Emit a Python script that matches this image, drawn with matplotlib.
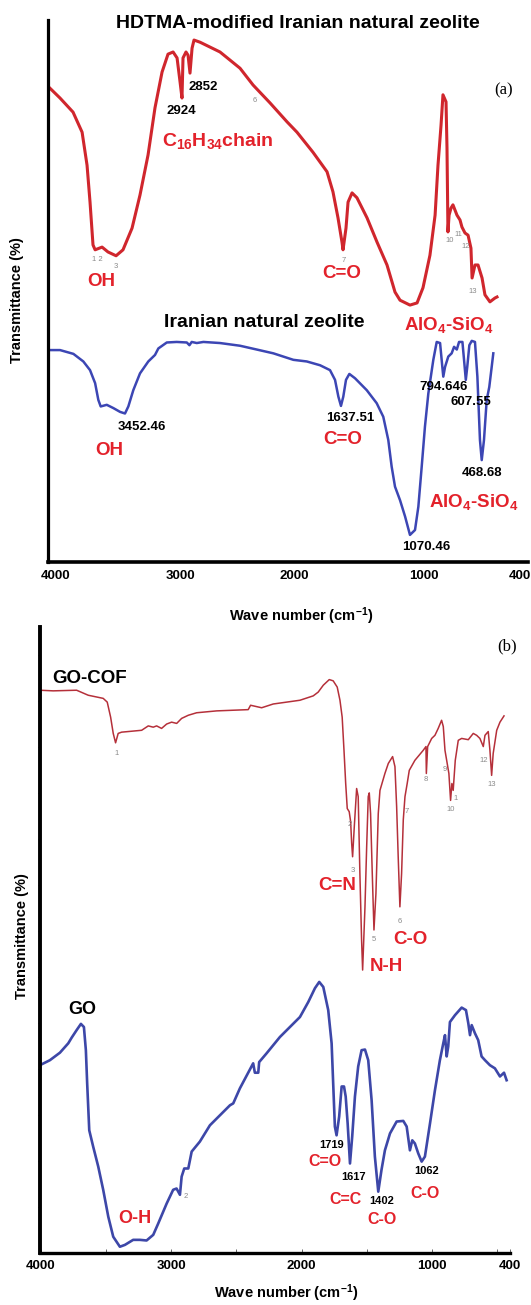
import numpy as np
import matplotlib
matplotlib.use('Agg')
import matplotlib.pyplot as plt

plt.rcParams['font.family'] = ['Liberation Sans', 'DejaVu Sans']
plt.rcParams['mathtext.fontset'] = 'custom'
plt.rcParams['mathtext.rm'] = 'Liberation Sans'
plt.rcParams['mathtext.bf'] = 'Liberation Sans:bold'
plt.rcParams['mathtext.it'] = 'Liberation Sans:italic'

# ---------------- data (wavenumber cm-1, transmittance arbitrary %) ----------------
hdtma = np.array([
    [4062, 87.7], [3968, 85.6], [3863, 83.0], [3790, 79.3], [3750, 73.2], [3726, 66.4],
    [3702, 58.5], [3685, 57.6], [3629, 58.1], [3581, 57.2], [3516, 56.5], [3460, 57.6],
    [3387, 61.6], [3323, 67.7], [3258, 75.1], [3202, 83.8], [3145, 90.4], [3097, 93.7],
    [3056, 94.1], [3024, 93.0], [3000, 88.6], [2983, 85.6], [2974, 93.0], [2948, 94.1],
    [2930, 93.5], [2913, 90.2], [2895, 94.8], [2878, 96.3], [2825, 95.9], [2651, 94.1],
    [2476, 91.1], [2362, 88.0], [2214, 84.7], [2065, 81.2], [1981, 79.3], [1857, 75.6],
    [1748, 72.0], [1702, 68.3], [1663, 63.5], [1632, 59.0], [1624, 57.6], [1601, 61.6],
    [1585, 66.4], [1554, 68.1], [1516, 67.2], [1438, 63.5], [1360, 59.0], [1283, 54.8],
    [1221, 49.8], [1182, 48.3], [1105, 47.4], [1050, 47.8], [1004, 50.6], [960, 56.6],
    [928, 64.0], [910, 73.2], [891, 80.6], [879, 86.2], [860, 84.9], [854, 76.4],
    [848, 60.9], [841, 64.0], [829, 65.3], [817, 65.9], [792, 64.0], [773, 63.1],
    [761, 61.8], [742, 60.7], [723, 60.3], [705, 57.9], [698, 52.4], [680, 54.8],
    [661, 54.8], [636, 52.4], [618, 49.3], [587, 48.0], [556, 48.7], [543, 48.9]])

zeolite = np.array([
    [4062, 39.1], [3968, 39.1], [3860, 38.4], [3780, 37.0], [3726, 35.4], [3685, 33.0],
    [3659, 29.9], [3640, 28.7], [3591, 29.0], [3538, 28.4], [3484, 27.7], [3444, 27.4],
    [3417, 28.7], [3377, 31.7], [3323, 34.8], [3256, 37.0], [3202, 38.2], [3175, 39.4],
    [3107, 40.5], [3027, 40.6], [2941, 40.5], [2918, 40.0], [2898, 40.6], [2854, 40.4],
    [2796, 40.6], [2651, 40.4], [2476, 39.9], [2330, 39.2], [2185, 38.5], [2054, 37.6],
    [2010, 37.3], [1905, 37.0], [1802, 36.3], [1725, 35.4], [1686, 33.6], [1660, 30.5],
    [1640, 28.8], [1622, 30.5], [1601, 33.6], [1575, 34.7], [1531, 33.9], [1440, 31.7],
    [1363, 29.3], [1312, 26.8], [1273, 22.5], [1247, 17.6], [1221, 13.9], [1182, 11.4],
    [1143, 8.4], [1105, 5.0], [1066, 5.9], [1040, 10.2], [1014, 17.6], [991, 25.0],
    [970, 31.1], [939, 37.3], [918, 40.6], [897, 40.4], [883, 36.0], [877, 34.2],
    [866, 36.0], [846, 37.9], [825, 38.5], [810, 39.7], [793, 39.2], [779, 40.6],
    [758, 40.6], [748, 37.3], [737, 33.6], [728, 36.0], [715, 40.0], [700, 40.8],
    [680, 40.6], [665, 34.2], [649, 22.5], [638, 18.8], [624, 22.5], [607, 29.9],
    [591, 32.3], [576, 36.0], [566, 38.5]])

gocof = np.array([
    [4008, 89.9], [3906, 89.8], [3726, 89.9], [3637, 89.1], [3522, 88.6], [3491, 88.0],
    [3465, 85.6], [3445, 83.0], [3427, 81.5], [3407, 83.0], [3381, 83.2], [3227, 83.5],
    [3176, 84.2], [3138, 84.0], [3112, 84.2], [3074, 83.8], [3035, 84.5], [2997, 84.8],
    [2958, 84.6], [2920, 85.4], [2869, 85.9], [2805, 86.3], [2651, 86.6], [2409, 86.8],
    [2391, 87.5], [2306, 87.1], [2217, 87.7], [2012, 88.3], [1910, 89.0], [1872, 89.6],
    [1833, 90.7], [1787, 91.6], [1757, 91.4], [1726, 90.4], [1705, 88.3], [1688, 85.6],
    [1674, 80.3], [1661, 75.0], [1649, 71.0], [1634, 70.5], [1623, 68.9], [1615, 65.4],
    [1608, 63.3], [1595, 68.1], [1577, 74.2], [1565, 72.9], [1552, 60.6], [1539, 50.0],
    [1531, 45.2], [1513, 55.3], [1500, 64.9], [1488, 72.9], [1480, 73.5], [1470, 70.2],
    [1457, 60.6], [1444, 51.6], [1429, 57.4], [1411, 70.2], [1398, 73.9], [1360, 76.6],
    [1334, 78.2], [1301, 79.3], [1283, 77.7], [1270, 71.3], [1258, 63.3], [1245, 55.3],
    [1232, 60.6], [1219, 69.2], [1206, 72.9], [1189, 75.0], [1173, 77.1], [1130, 78.7],
    [1066, 80.3], [1045, 80.9], [1042, 76.6], [1032, 80.9], [1001, 82.2], [976, 82.7],
    [951, 83.8], [925, 85.1], [912, 84.1], [899, 80.3], [886, 78.7], [869, 76.6],
    [856, 72.3], [846, 75.0], [836, 73.9], [820, 78.7], [797, 81.9], [771, 82.2],
    [720, 82.0], [682, 83.0], [656, 82.7], [631, 82.2], [605, 80.9], [592, 82.7],
    [567, 83.3], [554, 80.3], [541, 76.3], [529, 79.8], [502, 83.5], [477, 84.8],
    [446, 85.8]])

go = np.array([
    [4008, 30.0], [3931, 30.8], [3854, 32.0], [3790, 33.5], [3764, 34.4], [3726, 35.6],
    [3693, 36.6], [3670, 36.1], [3655, 32.4], [3645, 27.1], [3629, 19.6], [3599, 17.0],
    [3560, 13.8], [3522, 10.1], [3483, 5.8], [3445, 2.6], [3394, 1.0], [3355, 1.3],
    [3292, 2.1], [3240, 2.1], [3189, 2.0], [3138, 2.9], [3100, 4.7], [3035, 7.9],
    [2985, 10.1], [2959, 10.3], [2933, 9.3], [2920, 12.2], [2900, 13.5], [2869, 13.5],
    [2843, 16.2], [2780, 17.8], [2703, 20.4], [2626, 22.0], [2549, 23.6], [2524, 23.9],
    [2473, 26.3], [2371, 30.3], [2358, 28.8], [2332, 28.8], [2325, 30.5], [2268, 31.9],
    [2166, 34.5], [2089, 36.1], [2012, 37.7], [1948, 40.1], [1897, 42.3], [1864, 43.3],
    [1833, 42.5], [1795, 38.8], [1769, 33.5], [1757, 27.1], [1744, 20.2], [1731, 18.8],
    [1711, 21.8], [1692, 26.6], [1674, 26.6], [1661, 25.0], [1646, 20.7], [1628, 14.3],
    [1611, 18.6], [1590, 25.0], [1565, 29.8], [1539, 32.4], [1513, 32.5], [1488, 30.8],
    [1462, 24.4], [1437, 15.4], [1411, 9.8], [1386, 13.3], [1360, 16.4], [1321, 19.1],
    [1270, 21.0], [1219, 21.1], [1193, 20.2], [1168, 16.4], [1150, 18.0], [1130, 17.5],
    [1104, 15.9], [1078, 14.6], [1053, 15.4], [1014, 20.7], [976, 26.0], [938, 30.8],
    [912, 33.5], [899, 34.8], [886, 31.4], [874, 33.0], [861, 36.9], [822, 38.0],
    [771, 39.2], [738, 38.8], [720, 36.7], [707, 34.8], [694, 36.4], [669, 35.1],
    [644, 34.0], [618, 31.4], [592, 30.8], [554, 30.0], [516, 29.5], [477, 28.2],
    [446, 28.8], [426, 27.6]])

xticks = [4000, 3000, 2000, 1000, 400]

# ---------------- figure ----------------
W, H = 531, 1305
fig = plt.figure(figsize=(W / 100, H / 100), dpi=100)
fig.patch.set_facecolor('white')


def fr(x0, y0, x1, y1):
    return [x0 / W, 1 - y1 / H, (x1 - x0) / W, (y1 - y0) / H]


def txt(x, y, s, size=9.5, color='black', weight='bold', va='center', **kw):
    fig.text(x / W, 1 - y / H, s, ha='center', va=va, fontsize=size,
             color=color, fontweight=weight, **kw)


RED_LBL = '#e3222b'
GRAY = '#8a8a8a'

# panel (a) uses the non-uniform wavenumber scale of the original axis
WK = [300, 400, 1000, 2000, 3000, 4000, 4100]
PK = [-536, -520, -423.5, -294.5, -180, -56, -43.6]


def fwd(w):
    return np.interp(w, WK, PK)


def inv(s):
    return np.interp(s, PK, WK)


ax1 = fig.add_axes(fr(47.5, 20, 528, 562))
ax1.set_xscale('function', functions=(fwd, inv))
ax1.plot(hdtma[:, 0], hdtma[:, 1], color='#d0262d', lw=2.2, solid_joinstyle='round')
ax1.plot(zeolite[:, 0], zeolite[:, 1], color='#3c46b4', lw=1.8, solid_joinstyle='round')
ax1.set_xlim(4069, 350)
ax1.set_ylim(0, 100)
ax1.set_xticks(xticks)
ax1.set_xticklabels([str(t) for t in xticks])
ax1.set_yticks([])
ax1.tick_params(axis='x', length=0, pad=6, labelsize=9.5)
for lab in ax1.get_xticklabels():
    lab.set_fontweight('bold')
ax1.spines['top'].set_visible(False)
ax1.spines['right'].set_visible(False)
ax1.spines['left'].set_linewidth(2.3)
ax1.spines['bottom'].set_linewidth(2.6)

ax2 = fig.add_axes(fr(40, 627, 510, 1253))
ax2.plot(gocof[:, 0], gocof[:, 1], color='#b5303a', lw=1.1)
ax2.plot(go[:, 0], go[:, 1], color='#3d47a8', lw=1.9, solid_joinstyle='round')
ax2.set_xlim(4007, 400)
ax2.set_ylim(0, 100)
ax2.set_xticks(xticks)
ax2.set_xticklabels([str(t) for t in xticks])
ax2.set_xticks([3500, 2500, 1500, 500], minor=True)
ax2.set_yticks(np.arange(0, 100, 7.35))
ax2.set_yticklabels([])
ax2.tick_params(axis='x', which='both', direction='in', length=3, width=0.7,
                color='#666666', pad=5, labelsize=9.5)
ax2.tick_params(axis='y', direction='out', length=1.5, width=0.8, color='#33336a')
for lab in ax2.get_xticklabels():
    lab.set_fontweight('bold')
ax2.spines['top'].set_visible(False)
ax2.spines['right'].set_visible(False)
ax2.spines['left'].set_linewidth(2.8)
ax2.spines['bottom'].set_linewidth(2.4)

# ---------------- texts panel (a) ----------------
txt(297.6, 23.3, 'HDTMA-modified Iranian natural zeolite', size=14)
txt(203.3, 86.7, '2852', size=9.5)
txt(181.7, 110.7, '2924', size=9.5)
txt(217.5, 146, r'C$_\mathbf{16}$H$_\mathbf{34}$chain', size=14, color=RED_LBL, va='baseline')
txt(101, 281.7, 'OH', size=13.5, color=RED_LBL)
txt(341.7, 273.3, 'C=O', size=13.5, color=RED_LBL)
for (x, y, s) in [(97, 259.3, '1 2'), (116, 266.7, '3'), (254.3, 100, '6'), (343.3, 260, '7'),
                  (449.3, 241, '10'), (458.3, 234.3, '11'), (465.7, 246.7, '12'),
                  (472.3, 291.7, '13')]:
    txt(x, y, s, size=5.5, color=GRAY, weight='normal')
fig.text(504 / W, 1 - 90 / H, '(a)', ha='center', va='center', fontsize=12,
         family='Liberation Serif')
txt(448.3, 330, r'AlO$_\mathbf{4}$-SiO$_\mathbf{4}$', size=13.5, color=RED_LBL, va='baseline')
txt(264, 322.7, 'Iranian natural zeolite', size=14)
txt(141.7, 426.7, '3452.46', size=9.5)
txt(109.3, 450.7, 'OH', size=13.5, color=RED_LBL)
txt(350.7, 418.3, '1637.51', size=9.5)
txt(342.7, 440, 'C=O', size=13.5, color=RED_LBL)
txt(444, 387.3, '794.646', size=9.5)
txt(470.7, 401.7, '607.55', size=9.5)
txt(481.7, 472.7, '468.68', size=9.5)
txt(474, 506.7, r'AlO$_\mathbf{4}$-SiO$_\mathbf{4}$', size=13.5, color=RED_LBL, va='baseline')
txt(426.7, 547.3, '1070.46', size=9.5)
txt(301, 621, r'Wave number (cm$^\mathbf{-1}$)', size=10.5, va='baseline')
txt(17, 300, 'Transmittance (%)', size=10.5, rotation=90)

# ---------------- texts panel (b) ----------------
fig.text(506.7 / W, 1 - 646.7 / H, '(b)', ha='center', va='center', fontsize=12,
         family='Liberation Serif')
txt(90, 678.3, 'GO-COF', size=13.5)
for (x, y, s) in [(116.7, 754, '1'), (349.3, 825, '2'), (352.3, 870, '3'), (374, 939.3, '5'),
                  (400, 921.7, '6'), (406.7, 811.7, '7'), (426, 779.3, '8'), (444.7, 769.3, '9'),
                  (450.7, 809.3, '10'), (455.3, 798.3, '1'), (484, 760.7, '12'),
                  (491.7, 784, '13'), (185.7, 1196.7, '2')]:
    txt(x, y, s, size=5.5, color=GRAY, weight='normal')
txt(336.7, 885, 'C=N', size=13.5, color=RED_LBL)
txt(386, 966.7, 'N-H', size=13.5, color=RED_LBL)
txt(410, 939.3, 'C-O', size=13.5, color=RED_LBL)
txt(82.7, 1009.3, 'GO', size=13)
txt(135, 1218.3, 'O-H', size=13, color=RED_LBL)
txt(331.7, 1145, '1719', size=8)
txt(325, 1161.7, 'C=O', size=11.5, color=RED_LBL)
txt(353.3, 1176.7, '1617', size=8)
txt(346, 1200, 'C=C', size=11.5, color=RED_LBL)
txt(381.7, 1200.7, '1402', size=8)
txt(381.7, 1219.3, 'C-O', size=11.5, color=RED_LBL)
txt(426.7, 1170.7, '1062', size=8)
txt(425, 1193.3, 'C-O', size=11.5, color=RED_LBL)
txt(22, 936, 'Transmittance (%)', size=10.5, rotation=90)
txt(285.7, 1298, r'Wave number (cm$^\mathbf{-1}$)', size=10.5, va='baseline')

fig.savefig('out.png', dpi=100, facecolor='white')
